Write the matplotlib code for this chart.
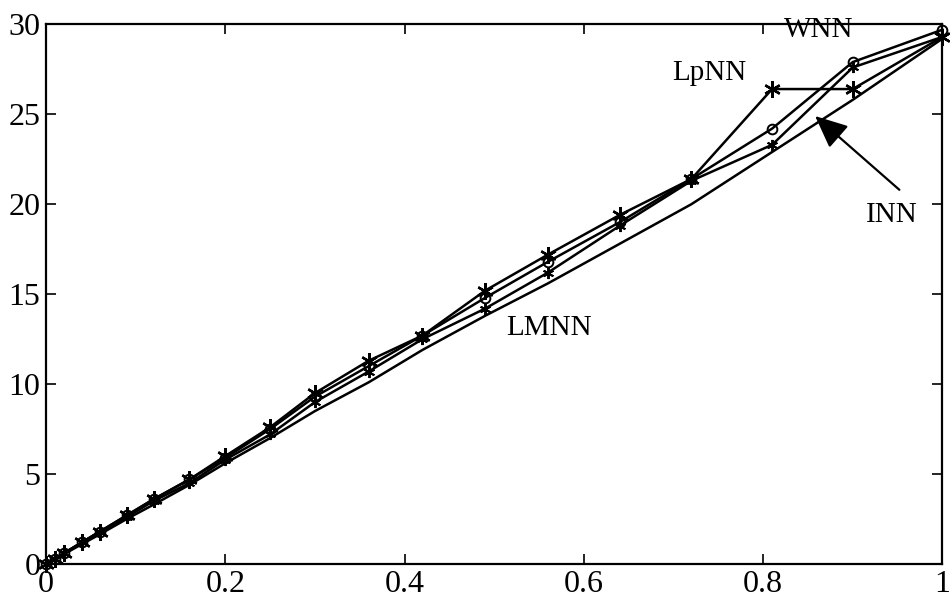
import matplotlib
matplotlib.use("Agg")
import matplotlib.pyplot as plt

plt.rcParams['font.family'] = ['Liberation Serif', 'DejaVu Serif']

x = [0, .01, .02, .04, .06, .09, .12, .16, .20, .25, .30, .36, .42, .49, .56, .64, .72, .81, .90, 1.0]
lpnn = [0, 0.3, 0.6, 1.2, 1.8, 2.7, 3.6, 4.7, 6.0, 7.6, 9.5, 11.3, 12.7, 15.2, 17.2, 19.4, 21.4, 26.4, 26.4, 29.3]
wnn = [0, 0.3, 0.6, 1.2, 1.8, 2.7, 3.6, 4.7, 5.9, 7.5, 9.3, 11.0, 12.7, 14.8, 16.8, 19.0, 21.4, 24.2, 27.9, 29.7]
lmnn = [0, 0.3, 0.6, 1.2, 1.8, 2.6, 3.5, 4.5, 5.8, 7.2, 9.0, 10.7, 12.5, 14.2, 16.2, 18.8, 21.3, 23.3, 27.6, 29.3]
inn = [0, 0.28, 0.55, 1.1, 1.65, 2.5, 3.3, 4.4, 5.6, 7.0, 8.5, 10.1, 11.9, 13.8, 15.6, 17.8, 20.0, 22.9, 25.8, 29.2]

xticks = [0, 0.2, 0.4, 0.6, 0.8, 1]
xticklabels = ['0', '0.2', '0.4', '0.6', '0.8', '1']
yticks = [0, 5, 10, 15, 20, 25, 30]

fig = plt.figure(figsize=(9.5, 6.07), dpi=100)
ax = fig.add_axes([0.0484, 0.0708, 0.9436, 0.8892])

lw = 1.8
ast = (6, 2, 0)
ax.plot(x, inn, color='black', lw=lw, clip_on=False)
ax.plot(x, lmnn, color='black', lw=lw, marker=ast, ms=8, mew=1.4, clip_on=False)
ax.plot(x, wnn, color='black', lw=lw, marker='o', ms=7, mfc='none', mew=1.4, clip_on=False)
ax.plot(x, lpnn, color='black', lw=lw, marker=ast, ms=12, mew=1.7, clip_on=False)

ax.set_xlim(0, 1)
ax.set_ylim(0, 30)
ax.set_xticks(xticks)
ax.set_xticklabels(xticklabels)
ax.set_yticks(yticks)
ax.tick_params(direction='in', length=7, width=1.2, top=True, right=True,
               labelsize=23, pad=4)
for s in ax.spines.values():
    s.set_linewidth(1.6)

fs = 21
ax.text(0.862, 29.7, 'WNN', fontsize=fs, ha='center', va='center')
ax.text(0.740, 27.3, 'LpNN', fontsize=fs, ha='center', va='center')
ax.text(0.561, 13.1, 'LMNN', fontsize=fs, ha='center', va='center')
ax.text(0.944, 19.4, 'INN', fontsize=fs, ha='center', va='center')
ax.annotate('', xy=(0.858, 24.9), xytext=(0.952, 20.8),
            arrowprops=dict(arrowstyle='-|>,head_length=2.0,head_width=0.9',
                            color='black', lw=1.6, shrinkA=0, shrinkB=0))

fig.savefig('out.png', dpi=100)
